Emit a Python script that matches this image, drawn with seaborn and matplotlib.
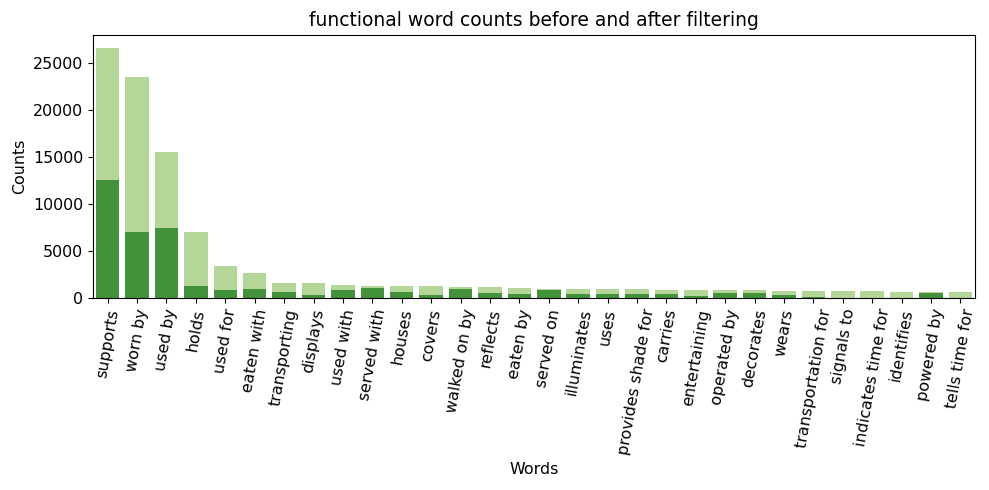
import numpy as np
import pandas as pd
import matplotlib
matplotlib.use('Agg')
import matplotlib.pyplot as plt
import seaborn as sns

words = ['supports', 'worn by', 'used by', 'holds', 'used for', 'eaten with', 'transporting',
         'displays', 'used with', 'served with', 'houses', 'covers', 'walked on by', 'reflects',
         'eaten by', 'served on', 'illuminates', 'uses', 'provides shade for', 'carries',
         'entertaining', 'operated by', 'decorates', 'wears', 'transportation for', 'signals to',
         'indicates time for', 'identifies', 'powered by', 'tells time for']

countsBefore = [26600, 23500, 15500, 7050, 3400, 2650, 1600, 1550, 1380, 1320,
                1290, 1230, 1170, 1120, 1060, 990, 960, 930, 900, 880,
                850, 810, 790, 760, 730, 700, 690, 670, 640, 620]

countsAfter = [12550, 6980, 7480, 1260, 810, 990, 630, 300, 830, 1030,
               580, 265, 1000, 480, 370, 800, 450, 400, 450, 370,
               220, 510, 550, 300, 130, 10, 10, 10, 560, 10]

df = pd.DataFrame({'Words': words, 'before': countsBefore, 'after': countsAfter})

fig = plt.figure(figsize=(9.89, 4.9), dpi=100)
ax = fig.add_axes([0.094, 0.392, 0.892, 0.537])

sns.barplot(ax=ax, data=df, x='Words', y='before', color='#b4d699', saturation=1)
sns.barplot(ax=ax, data=df, x='Words', y='after', color='#42923a', saturation=1)

ax.set_title('functional word counts before and after filtering', fontsize=13.5)
ax.set_xlabel('Words', fontsize=11.4)
ax.set_ylabel('Counts', fontsize=11.4)
ax.set_ylim(0, 28000)
ax.set_yticks([0, 5000, 10000, 15000, 20000, 25000])
ax.tick_params(axis='both', labelsize=11.4)
plt.setp(ax.get_xticklabels(), rotation=80)

fig.savefig('out.png', dpi=100)
